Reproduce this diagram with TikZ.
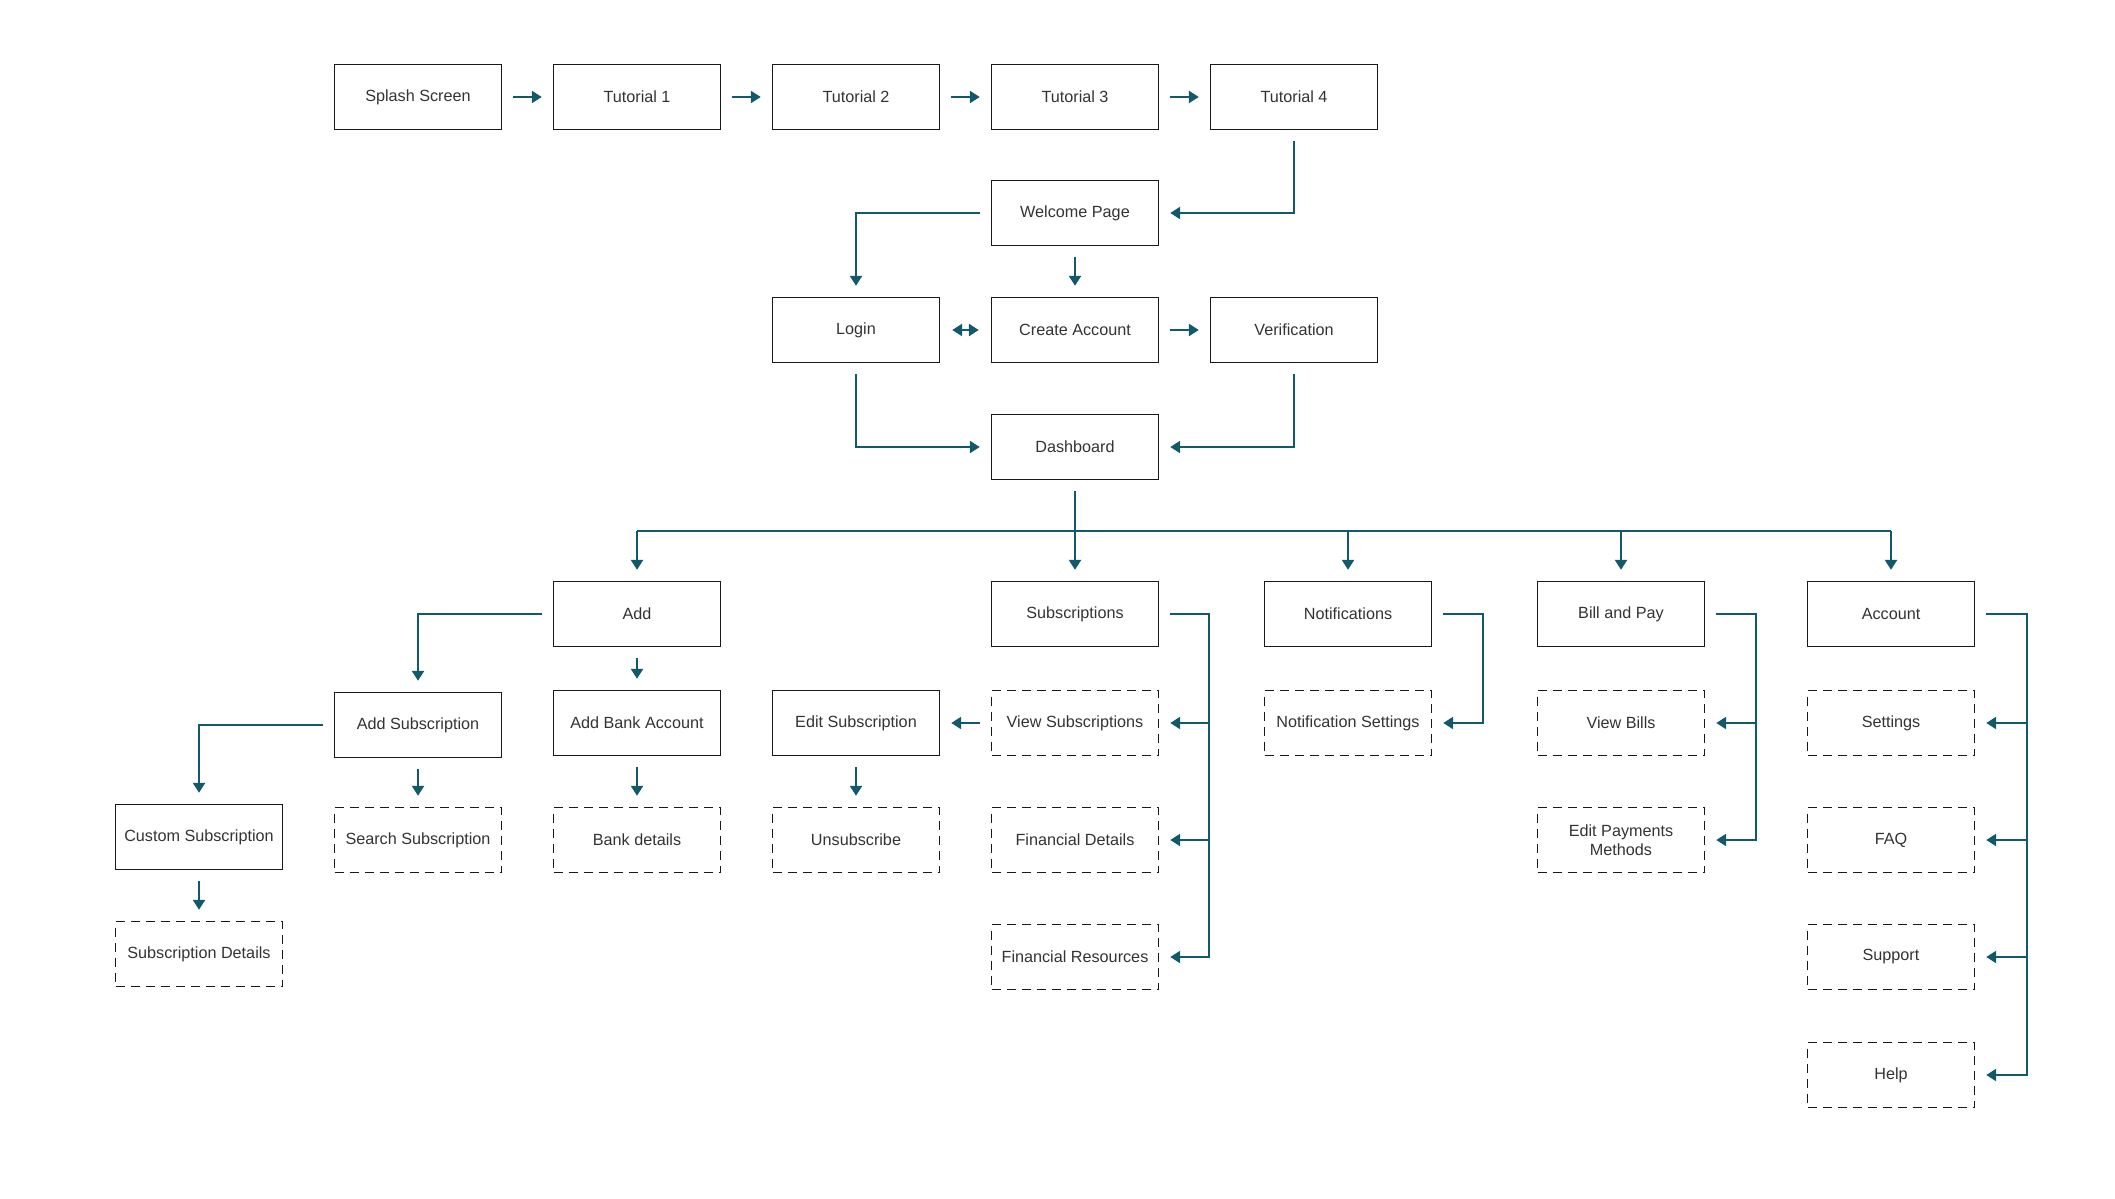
\documentclass[tikz,border=0pt]{standalone}
\usepackage{fontspec}
\setmainfont{Liberation Sans}
\usetikzlibrary{arrows.meta}
\definecolor{teal1}{RGB}{18,90,106}
\definecolor{txt}{RGB}{51,51,51}
\tikzset{
  box/.style={draw=black!90, line width=1.4pt, minimum width=167pt, minimum height=65pt, inner sep=2pt,
    font=\fontsize{16.2pt}{18.5pt}\selectfont, text=txt, align=center},
  dbox/.style={box, dash pattern=on 9pt off 6pt},
  conn/.style={draw=teal1, line width=2.4pt},
  arr/.style={conn, -{Triangle[length=10pt,width=12pt]}, shorten >=11pt},
  darr/.style={conn, {Triangle[length=10pt,width=12pt]}-{Triangle[length=10pt,width=12pt]}, shorten >=12pt, shorten <=12pt},
  gap/.style={shorten <=11pt}
}
\begin{document}
\begin{tikzpicture}[x=1pt,y=-1pt]
\useasboundingbox (0,0) rectangle (2115,1199);
% top row
\node[box] (splash) at (418,97) {Splash Screen};
\node[box] (t1) at (637,97) {Tutorial 1};
\node[box] (t2) at (856,97) {Tutorial 2};
\node[box] (t3) at (1075,97) {Tutorial 3};
\node[box] (t4) at (1294,97) {Tutorial 4};
\node[box] (welcome) at (1075,213) {Welcome Page};
\node[box] (login) at (856,330) {Login};
\node[box] (create) at (1075,330) {Create Account};
\node[box] (verif) at (1294,330) {Verification};
\node[box] (dash) at (1075,447) {Dashboard};
% main row
\node[box] (add) at (637,614) {Add};
\node[box] (subs) at (1075,614) {Subscriptions};
\node[box] (notif) at (1348,614) {Notifications};
\node[box] (bill) at (1621,614) {Bill and Pay};
\node[box] (acct) at (1891,614) {Account};
% children
\node[box] (addsub) at (418,725) {Add Subscription};
\node[box] (addbank) at (637,723) {Add Bank Account};
\node[box] (editsub) at (856,723) {Edit Subscription};
\node[dbox] (viewsubs) at (1075,723) {View Subscriptions};
\node[dbox] (notifset) at (1348,723) {Notification Settings};
\node[dbox] (viewbills) at (1621,723) {View Bills};
\node[dbox] (settings) at (1891,723) {Settings};
\node[box] (custom) at (199,837) {Custom Subscription};
\node[dbox] (search) at (418,840) {Search Subscription};
\node[dbox] (bankdet) at (637,840) {Bank details};
\node[dbox] (unsub) at (856,840) {Unsubscribe};
\node[dbox] (findet) at (1075,840) {Financial Details};
\node[dbox] (editpay) at (1621,840) {Edit Payments\\Methods};
\node[dbox] (faq) at (1891,840) {FAQ};
\node[dbox] (subdet) at (199,954) {Subscription Details};
\node[dbox] (finres) at (1075,957) {Financial Resources};
\node[dbox] (support) at (1891,957) {Support};
\node[dbox] (help) at (1891,1075) {Help};
% top flow
\draw[arr,gap] (splash) -- (t1);
\draw[arr,gap] (t1) -- (t2);
\draw[arr,gap] (t2) -- (t3);
\draw[arr,gap] (t3) -- (t4);
\draw[arr,gap] (t4.south) |- (welcome.east);
\draw[arr,gap] (welcome.west) -| (login.north);
\draw[arr,gap] (welcome) -- (create);
\draw[darr] (login) -- (create);
\draw[arr,gap] (create) -- (verif);
\draw[arr,gap] (login.south) |- (dash.west);
\draw[arr,gap] (verif.south) |- (dash.east);
% bus
\coordinate (bus) at (1075,531);
\draw[conn,gap] (dash.south) -- (bus);
\draw[conn] (add.north |- bus) -- (acct.north |- bus);
\foreach \n in {add,subs,notif,bill,acct}{
  \draw[arr] (\n.north |- bus) -- (\n.north);
}
% Add branch
\draw[arr,gap] (add.west) -| (addsub.north);
\draw[arr,gap] (add) -- (addbank);
\draw[arr,gap] (addsub.west) -| (custom.north);
\draw[arr,gap] (addsub) -- (search);
\draw[arr,gap] (addbank) -- (bankdet);
\draw[arr,gap] (custom) -- (subdet);
\draw[arr,gap] (viewsubs) -- (editsub);
\draw[arr,gap] (editsub) -- (unsub);
% Subscriptions branch
\coordinate (sx) at ([xshift=50pt]subs.east);
\draw[arr,gap] (subs.east) -- (sx) -- (sx |- finres.east) -- (finres.east);
\draw[arr] (sx |- viewsubs.east) -- (viewsubs.east);
\draw[arr] (sx |- findet.east) -- (findet.east);
% Notifications
\coordinate (nx) at ([xshift=51pt]notif.east);
\draw[arr,gap] (notif.east) -- (nx) -- (nx |- notifset.east) -- (notifset.east);
% Bill and Pay
\coordinate (bx) at ([xshift=51pt]bill.east);
\draw[arr,gap] (bill.east) -- (bx) -- (bx |- editpay.east) -- (editpay.east);
\draw[arr] (bx |- viewbills.east) -- (viewbills.east);
% Account
\coordinate (ax) at ([xshift=52pt]acct.east);
\draw[arr,gap] (acct.east) -- (ax) -- (ax |- help.east) -- (help.east);
\draw[arr] (ax |- settings.east) -- (settings.east);
\draw[arr] (ax |- faq.east) -- (faq.east);
\draw[arr] (ax |- support.east) -- (support.east);
\end{tikzpicture}
\end{document}
